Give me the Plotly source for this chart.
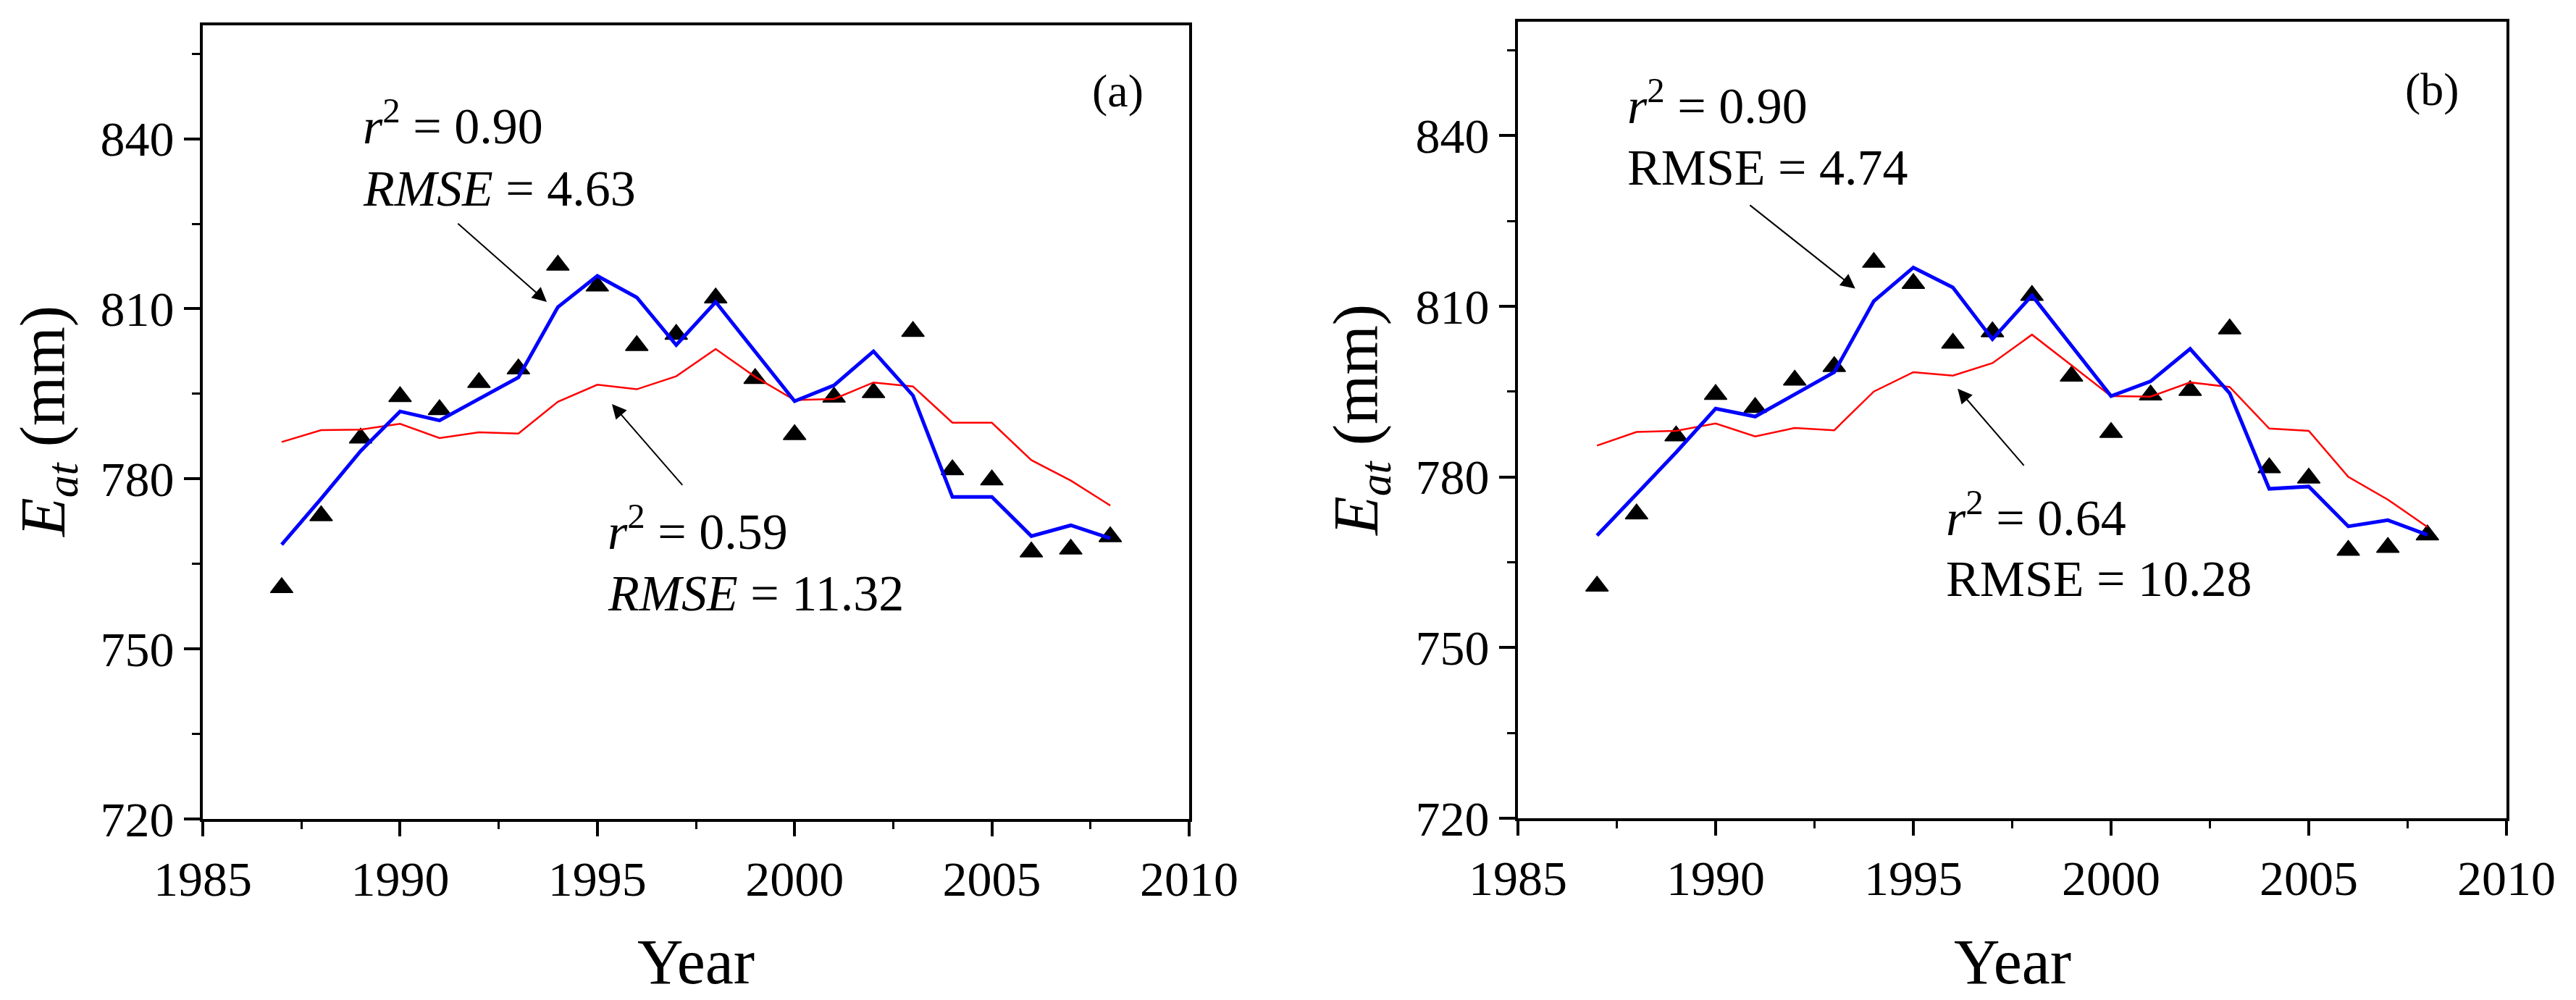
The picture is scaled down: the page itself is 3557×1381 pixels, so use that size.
import plotly.graph_objects as go

FONT = "Liberation Serif"

years = list(range(1987, 2009))
observed = [760.8, 773.5, 787.2, 794.5, 792.2, 797.0, 799.4, 817.7, 814.0, 803.5, 805.5,
            811.9, 797.7, 787.8, 794.4, 795.2, 806.0, 781.6, 779.8, 767.1, 767.6, 769.8]
blue_a = [768.4, 776.5, 784.9, 791.9, 790.3, 794.1, 797.9, 810.3, 815.8, 812.0, 803.6,
          811.2, 802.5, 793.7, 796.5, 802.5, 794.7, 776.8, 776.8, 769.9, 771.8, 769.5]
red_a = [786.5, 788.6, 788.7, 789.7, 787.2, 788.2, 788.0, 793.6, 796.6, 795.8, 798.1,
         802.9, 798.0, 793.9, 794.1, 797.0, 796.3, 789.9, 789.9, 783.3, 779.7, 775.3]
blue_b = [769.7, 777.0, 784.3, 792.0, 790.6, 794.5, 798.4, 810.9, 816.8, 813.3, 804.2,
          811.9, 803.0, 794.2, 796.8, 802.5, 794.7, 777.9, 778.3, 771.3, 772.4, 769.8]
red_b = [785.5, 787.9, 788.1, 789.4, 787.1, 788.6, 788.2, 795.0, 798.4, 797.8, 800.0,
         805.0, 799.6, 794.2, 794.1, 796.6, 795.8, 788.5, 788.1, 780.0, 776.0, 771.2]

panel_labels = ["(a)", "(b)"]
stats_good = [["<i>r</i><sup>2</sup> = 0.90", "<i>RMSE</i> = 4.63"],
              ["<i>r</i><sup>2</sup> = 0.90", "RMSE = 4.74"]]
stats_poor = [["<i>r</i><sup>2</sup> = 0.59", "<i>RMSE</i> = 11.32"],
              ["<i>r</i><sup>2</sup> = 0.64", "RMSE = 10.28"]]

fig = go.Figure()

panels = [("x", "y", blue_a, red_a), ("x2", "y2", blue_b, red_b)]
for xa, ya, blue, red in panels:
    fig.add_trace(go.Scatter(x=years, y=observed, mode="markers", xaxis=xa, yaxis=ya,
                             marker=dict(symbol="triangle-up", size=27, color="black",
                                         line=dict(color="black", width=1.5)),
                             showlegend=False))
    fig.add_trace(go.Scatter(x=years, y=red, mode="lines", xaxis=xa, yaxis=ya,
                             line=dict(color="#ff0000", width=2.5), showlegend=False))
    fig.add_trace(go.Scatter(x=years, y=blue, mode="lines", xaxis=xa, yaxis=ya,
                             line=dict(color="#0000ff", width=5), showlegend=False))

W, H = 3557, 1381


def xax(domain, anchor):
    return dict(domain=domain, anchor=anchor, range=[1985, 2010], tick0=1985, dtick=5,
                ticks="outside", ticklen=20, tickwidth=4, tickcolor="black",
                showline=True, linewidth=4, linecolor="black", mirror=True,
                showgrid=False, zeroline=False, automargin=False,
                tickfont=dict(family=FONT, size=68, color="black"),
                minor=dict(dtick=2.5, ticks="outside", ticklen=10, tickwidth=3,
                           tickcolor="black", showgrid=False))


def yax(domain, anchor):
    return dict(domain=domain, anchor=anchor, range=[720, 860], tick0=720, dtick=30,
                ticks="outside", ticklen=22, tickwidth=4, tickcolor="black",
                showline=True, linewidth=4, linecolor="black", mirror=True,
                showgrid=False, zeroline=False, automargin=False,
                tickfont=dict(family=FONT, size=68, color="black"),
                minor=dict(dtick=15, ticks="outside", ticklen=11, tickwidth=3,
                           tickcolor="black", showgrid=False))


xd1 = [280 / W, 1642 / W]
xd2 = [2096 / W, 3461 / W]
yd1 = [(H - 1131) / H, (H - 35) / H]
yd2 = [(H - 1130) / H, (H - 30) / H]

annotations = []
tfont = dict(family=FONT, size=70, color="black")

good_pos = [(1989.02, 842.9, 831.2), (1987.72, 845.9, 834.3)]
poor_pos = [(1995.23, 771.3, 759.8), (1995.79, 773.5, 762.1)]
label_pos = [(2008.2, 848.5), (2008.12, 848.1)]
arrow_good = [((1993.72, 811.2), (1991.44, 825.2)), ((1993.53, 813.1), (1990.84, 827.9))]
arrow_poor = [((1995.37, 793.2), (1997.18, 778.7)), ((1996.12, 795.5), (1997.82, 781.8))]

for i, (xr, yr) in enumerate([("x", "y"), ("x2", "y2")]):
    gx, gy1, gy2 = good_pos[i]
    annotations.append(dict(x=gx, y=gy1, xref=xr, yref=yr, text=stats_good[i][0],
                            showarrow=False, xanchor="left", yanchor="middle", font=tfont))
    annotations.append(dict(x=gx, y=gy2, xref=xr, yref=yr, text=stats_good[i][1],
                            showarrow=False, xanchor="left", yanchor="middle", font=tfont))
    px, py1, py2 = poor_pos[i]
    annotations.append(dict(x=px, y=py1, xref=xr, yref=yr, text=stats_poor[i][0],
                            showarrow=False, xanchor="left", yanchor="middle", font=tfont))
    annotations.append(dict(x=px, y=py2, xref=xr, yref=yr, text=stats_poor[i][1],
                            showarrow=False, xanchor="left", yanchor="middle", font=tfont))
    lx, ly = label_pos[i]
    annotations.append(dict(x=lx, y=ly, xref=xr, yref=yr, text=panel_labels[i],
                            showarrow=False, xanchor="center", yanchor="middle",
                            font=dict(family=FONT, size=64, color="black")))
    for (hx, hy), (tx, ty) in (arrow_good[i], arrow_poor[i]):
        annotations.append(dict(x=hx, y=hy, xref=xr, yref=yr, ax=tx, ay=ty,
                                axref=xr, ayref=yr, text="", showarrow=True,
                                arrowhead=2, arrowsize=2.0, arrowwidth=2,
                                arrowcolor="black", standoff=0))

for cx, cy, yx in [(961 / W, 0.5778, 65 / W), (2778.5 / W, 0.5800, 1878 / W)]:
    annotations.append(dict(x=cx, y=(H - 1328) / H, xref="paper", yref="paper",
                            text="Year", showarrow=False, xanchor="center",
                            yanchor="middle", font=dict(family=FONT, size=88, color="black")))
    annotations.append(dict(x=yx, y=cy, xref="paper", yref="paper",
                            text="<i>E</i><sub><i>at</i></sub> (mm)", textangle=-90,
                            showarrow=False, xanchor="center", yanchor="middle",
                            font=dict(family=FONT, size=88, color="black")))

fig.update_layout(
    width=W, height=H,
    margin=dict(l=0, r=0, t=0, b=0, pad=0, autoexpand=False),
    paper_bgcolor="white", plot_bgcolor="white",
    xaxis=xax(xd1, "y"), yaxis=yax(yd1, "x"),
    xaxis2=xax(xd2, "y2"), yaxis2=yax(yd2, "x2"),
    annotations=annotations,
    font=dict(family=FONT, color="black"),
)

fig.write_html("out.html", config={"displayModeBar": False},
               post_script="document.body.style.margin='0';")
